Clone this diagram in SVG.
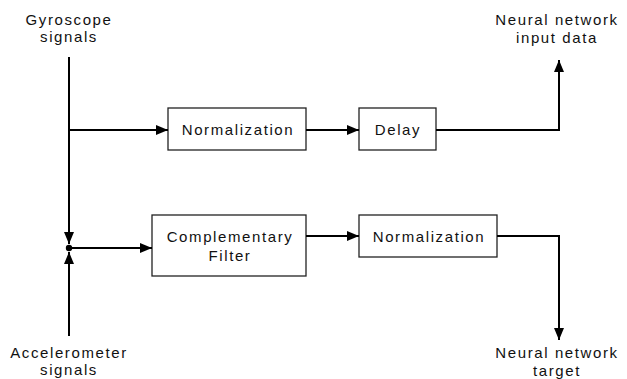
<svg xmlns="http://www.w3.org/2000/svg" width="627" height="379" viewBox="0 0 627 379">
<style>
text{font-family:"Liberation Sans",Arial,sans-serif;font-size:15px;fill:#111;letter-spacing:1.6px;text-anchor:middle}
.box{fill:#fff;stroke:#222;stroke-width:1.3}
.c{fill:none;stroke:#000;stroke-width:2}
</style>
<defs>
<marker id="ah" viewBox="0 0 12 10" refX="12" refY="5" markerWidth="12" markerHeight="10" markerUnits="userSpaceOnUse" orient="auto">
<path d="M0,0 L12,5 L0,10 z" fill="#000"/>
</marker>
</defs>
<g id="gyro"><text x="69" y="25">Gyroscope</text><text x="69" y="42">signals</text></g>
<g id="accel"><text x="69" y="358">Accelerometer</text><text x="69" y="375">signals</text></g>
<g id="nnin"><text x="557" y="25">Neural network</text><text x="557" y="43">input data</text></g>
<g id="nntarget"><text x="557" y="358">Neural network</text><text x="557" y="376">target</text></g>
<g id="norm1"><rect class="box" x="168" y="108" width="138" height="42"/><text x="238" y="135">Normalization</text></g>
<g id="delay"><rect class="box" x="359" y="108" width="77" height="42"/><text x="398" y="135">Delay</text></g>
<g id="comp"><rect class="box" x="152" y="215" width="154" height="61"/><text x="230" y="242">Complementary</text><text x="230" y="261">Filter</text></g>
<g id="norm2"><rect class="box" x="359" y="215" width="138" height="42"/><text x="429" y="242">Normalization</text></g>
<g id="connectors">
<path class="c" d="M69,57 V244" marker-end="url(#ah)"/>
<path class="c" d="M69,336 V252" marker-end="url(#ah)"/>
<circle cx="69" cy="248" r="3.2" fill="#000"/>
<path class="c" d="M69,130 H168" marker-end="url(#ah)"/>
<path class="c" d="M306,130 H359" marker-end="url(#ah)"/>
<path class="c" d="M436,130 H559 V60" marker-end="url(#ah)"/>
<path class="c" d="M69,248 H152" marker-end="url(#ah)"/>
<path class="c" d="M306,236 H359" marker-end="url(#ah)"/>
<path class="c" d="M497,236 H559 V340" marker-end="url(#ah)"/>
</g>
</svg>
